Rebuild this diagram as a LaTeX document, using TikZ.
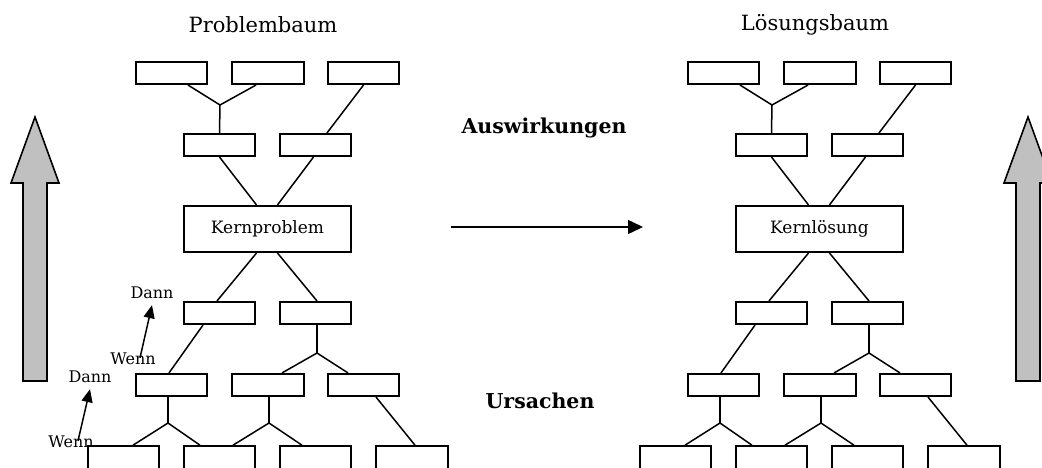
\documentclass[tikz,border=0pt]{standalone}
\usepackage{fontspec}
\setmainfont{DejaVu Serif}
\usetikzlibrary{arrows.meta}
\definecolor{arrgray}{HTML}{C0C0C0}
\newcommand\drawtree[3]{%
  \node[titletext] (#1title) at (263,25) {#2};
  \node[box] (#1b1) at (171.5,73) {};
  \node[box] (#1b2) at (268,73) {};
  \node[box] (#1b3) at (363.5,73) {};
  \node[box] (#1A) at (219.5,145) {};
  \node[box] (#1B) at (315.5,145) {};
  \node[kernbox] (#1K) at (267.5,229) {#3};
  \node[box] (#1C) at (219.5,313) {};
  \node[box] (#1D) at (315.5,313) {};
  \node[box] (#1E) at (171.5,385) {};
  \node[box] (#1F) at (268,385) {};
  \node[box] (#1G) at (363.5,385) {};
  \node[hbox] (#1H1) at (123.5,458.5) {};
  \node[hbox] (#1H2) at (219.5,458.5) {};
  \node[hbox] (#1H3) at (315.5,458.5) {};
  \node[hbox] (#1H4) at (412,458.5) {};
  \coordinate (#1j1) at (220,105);
  \coordinate (#1j2) at (317,353);
  \coordinate (#1j3) at (168,423);
  \coordinate (#1j4) at (269,423);
  \draw[link] ([xshift=16.5pt]#1b1.south) -- (#1j1) -- ([xshift=-12pt]#1b2.south);
  \draw[link] (#1j1) -- (#1A.north);
  \draw[link] (#1b3.south) -- ([xshift=11.5pt]#1B.north);
  \draw[link] (#1A.south) -- ([xshift=-11pt]#1K.north);
  \draw[link] ([xshift=-2pt]#1B.south) -- ([xshift=10pt]#1K.north);
  \draw[link] ([xshift=-11pt]#1K.south) -- ([xshift=-2.5pt]#1C.north);
  \draw[link] ([xshift=10pt]#1K.south) -- ([xshift=1.5pt]#1D.north);
  \draw[link] ([xshift=-16.5pt]#1C.south) -- ([xshift=-2.5pt]#1E.north);
  \draw[link] ([xshift=1.5pt]#1D.south) -- (#1j2);
  \draw[link] ([xshift=14pt]#1F.north) -- (#1j2) -- ([xshift=-15.5pt]#1G.north);
  \draw[link] ([xshift=-3.5pt]#1E.south) -- (#1j3);
  \draw[link] ([xshift=9.5pt]#1H1.north) -- (#1j3) -- ([xshift=-19.5pt]#1H2.north);
  \draw[link] ([xshift=1pt]#1F.south) -- (#1j4);
  \draw[link] ([xshift=13.5pt]#1H2.north) -- (#1j4) -- ([xshift=-13.5pt]#1H3.north);
  \draw[link] ([xshift=12.5pt]#1G.south) -- ([xshift=3pt]#1H4.north);
}
\begin{document}
\begin{tikzpicture}[x=1pt,y=-1pt,
  box/.style={draw, line width=1.6pt, minimum width=71.5pt, minimum height=22.5pt, inner sep=0pt},
  hbox/.style={box, minimum height=25pt},
  kernbox/.style={box, minimum width=167.5pt, minimum height=46.5pt, font=\fontsize{17}{20}\selectfont},
  link/.style={line width=1.5pt},
  titletext/.style={font=\fontsize{21}{25}\selectfont, inner sep=0pt},
  small/.style={font=\fontsize{16}{19}\selectfont, inner sep=0pt},
  boldtext/.style={font=\fontsize{20.5}{24}\selectfont\bfseries, inner sep=0pt},
  bigarrow/.style={draw, line width=1.6pt, fill=arrgray},
  arr/.style={line width=1.5pt, -{Triangle[length=13pt,width=11pt]}},
  harr/.style={line width=1.5pt, -{Triangle[length=15pt,width=14pt]}}]
\useasboundingbox (0,0) rectangle (1042,468);
% big gray arrows
\draw[bigarrow] (23,381) -- (23,183) -- (11,183) -- (35,117) -- (59,183) -- (47,183) -- (47,381) -- cycle;
\draw[bigarrow] (1016,381) -- (1016,183) -- (1004,183) -- (1028,117) -- (1052,183) -- (1040,183) -- (1040,381) -- cycle;
% trees
\drawtree{p}{Problembaum}{Kernproblem}
\begin{scope}[xshift=552pt]
\drawtree{l}{Lösungsbaum}{Kernlösung}
\end{scope}
% middle texts
\node[boldtext] (ausw) at (544,128) {Auswirkungen};
\node[boldtext] (urs) at (540,401) {Ursachen};
\coordinate (hstart) at (451,227);
\coordinate (hend) at (643,227);
\draw[harr] (hstart) -- (hend);
% Wenn / Dann
\node[small] (dann1) at (152,293) {Dann};
\node[small] (wenn1) at (133,359) {Wenn};
\node[small] (dann2) at (90,377) {Dann};
\node[small] (wenn2) at (71,442) {Wenn};
\draw[arr] ([xshift=7pt,yshift=-5pt]wenn1.north) -- ([yshift=-6pt]dann1.south);
\draw[arr] ([xshift=7pt,yshift=-5pt]wenn2.north) -- ([yshift=-6pt]dann2.south);
\end{tikzpicture}
\end{document}
